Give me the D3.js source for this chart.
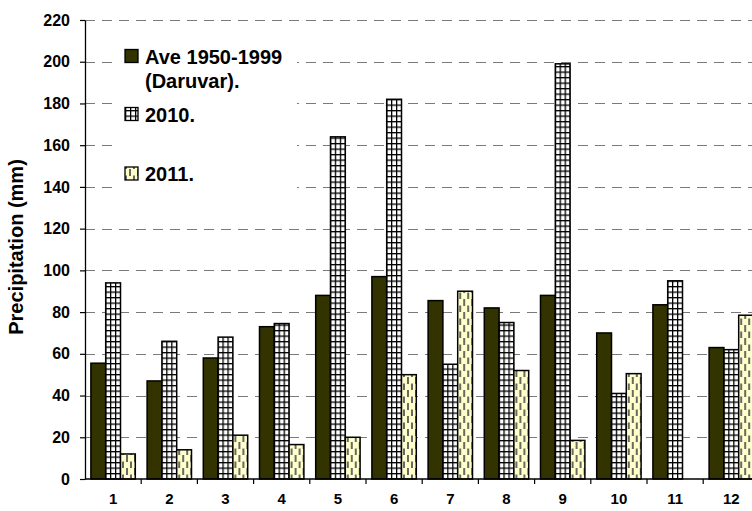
<!DOCTYPE html>
<html>
<head>
<meta charset="utf-8">
<script src="https://cdn.jsdelivr.net/npm/d3@7"></script>
<style>
  body { margin: 0; background: #fff; }
  svg { display: block; font-family: "Liberation Sans", Arial, sans-serif; }
</style>
</head>
<body>
<div id="chart"></div>
<script>
// data
var months = ["1", "2", "3", "4", "5", "6", "7", "8", "9", "10", "11", "12"];
var ave = [55.5, 47, 58, 73, 88, 97, 85.5, 82, 88, 70, 83.5, 63];
var y2010 = [94, 66, 68, 74.5, 164, 182, 55, 75, 199, 41, 95, 62];
var y2011 = [12, 14, 21, 16.5, 20, 50, 90, 52, 18.5, 50.5, null, 78.5];
var seriesNames = ["Ave 1950-1999 (Daruvar).", "2010.", "2011."];
var yTicks = [0, 20, 40, 60, 80, 100, 120, 140, 160, 180, 200, 220];

var width = 752, height = 511;
var plotLeft = 85, plotTop = 20, plotBottom = 479;
var step = 56.2;

var svg = d3.select("#chart").append("svg")
    .attr("width", width)
    .attr("height", height);

// patterns
var defs = svg.append("defs");

var grid = defs.append("pattern")
    .attr("id", "grid")
    .attr("patternUnits", "userSpaceOnUse")
    .attr("width", 5)
    .attr("height", 5.5);
grid.append("rect").attr("width", 5).attr("height", 5.5).attr("fill", "#fff");
grid.append("line").attr("x1", 0.6).attr("x2", 0.6).attr("y1", 0).attr("y2", 5.5)
    .attr("stroke", "#000").attr("stroke-width", 1.4);
grid.append("line").attr("x1", 0).attr("x2", 5).attr("y1", 0.6).attr("y2", 0.6)
    .attr("stroke", "#000").attr("stroke-width", 1.4);

var dashes = defs.append("pattern")
    .attr("id", "dashes")
    .attr("patternUnits", "userSpaceOnUse")
    .attr("width", 8)
    .attr("height", 13);
dashes.append("rect").attr("width", 8).attr("height", 13).attr("fill", "#ffffcc");
dashes.append("line").attr("x1", 2).attr("x2", 2).attr("y1", 0).attr("y2", 7)
    .attr("stroke", "#444").attr("stroke-width", 1.6);
dashes.append("line").attr("x1", 6).attr("x2", 6).attr("y1", 6.5).attr("y2", 13)
    .attr("stroke", "#444").attr("stroke-width", 1.6);

var fills = ["#333300", "url(#grid)", "url(#dashes)"];

// scales
var x = d3.scaleBand()
    .domain(months)
    .range([plotLeft, plotLeft + step * months.length]);

var xSub = d3.scaleBand()
    .domain([0, 1, 2])
    .range([5.9, step - 5.9]);

var y = d3.scaleLinear()
    .domain([0, 220])
    .range([plotBottom, plotTop]);

// gridlines
svg.append("g")
  .selectAll("line")
  .data(yTicks.slice(1))
  .enter().append("line")
    .attr("x1", plotLeft)
    .attr("x2", width)
    .attr("y1", function (d) { return Math.round(y(d)) + 0.5; })
    .attr("y2", function (d) { return Math.round(y(d)) + 0.5; })
    .style("stroke", "#7a7a7a")
    .style("stroke-width", "1.2px")
    .style("stroke-dasharray", "10,7");

// legend background hides gridlines
svg.append("rect")
    .attr("x", 112)
    .attr("y", 38)
    .attr("width", 185)
    .attr("height", 154)
    .attr("fill", "#fff");

// bars
var table = months.map(function (m, i) {
  return { month: m, values: [ave[i], y2010[i], y2011[i]] };
});

var groups = svg.append("g")
  .selectAll("g")
  .data(table)
  .enter().append("g")
    .attr("transform", function (d) { return "translate(" + x(d.month) + ",0)"; });

groups.selectAll("rect")
  .data(function (d) {
    return d.values.map(function (v, k) { return { k: k, v: v }; })
      .filter(function (e) { return e.v != null; });
  })
  .enter().append("rect")
    .attr("x", function (d) { return xSub(d.k); })
    .attr("width", xSub.bandwidth())
    .attr("y", function (d) { return y(d.v); })
    .attr("height", function (d) { return y(0) - y(d.v); })
    .attr("fill", function (d) { return fills[d.k]; })
    .attr("stroke", "#000")
    .attr("stroke-width", 1.5);

// y axis
var yAxis = svg.append("g")
    .attr("transform", "translate(" + plotLeft + ",0)")
    .call(d3.axisLeft(y).tickValues(yTicks).tickSize(5).tickPadding(10).tickSizeOuter(0));
yAxis.select(".domain").attr("stroke", "#000").attr("stroke-width", 1.3);
yAxis.selectAll(".tick line").attr("stroke", "#000").attr("stroke-width", 1.2);
yAxis.selectAll(".tick text")
    .attr("font-size", "16px")
    .attr("font-weight", "bold")
    .attr("font-family", "Liberation Sans, Arial, sans-serif")
    .attr("fill", "#000");

// x axis
svg.append("line")
    .attr("x1", plotLeft)
    .attr("x2", width)
    .attr("y1", plotBottom)
    .attr("y2", plotBottom)
    .attr("stroke", "#000")
    .attr("stroke-width", 1.3);

svg.append("g")
  .selectAll("line")
  .data(months.slice(1))
  .enter().append("line")
    .attr("x1", function (d) { return x(d); })
    .attr("x2", function (d) { return x(d); })
    .attr("y1", plotBottom)
    .attr("y2", plotBottom + 5)
    .attr("stroke", "#000")
    .attr("stroke-width", 1.2);

var xAxis = svg.append("g")
    .attr("transform", "translate(0," + plotBottom + ")")
    .call(d3.axisBottom(x).tickSize(0).tickPadding(14));
xAxis.select(".domain").remove();
xAxis.selectAll(".tick text")
    .attr("font-size", "15px")
    .attr("font-weight", "bold")
    .attr("font-family", "Liberation Sans, Arial, sans-serif")
    .attr("fill", "#000");

// axis title
svg.append("text")
    .text("Precipitation (mm)")
    .attr("transform", "translate(23,247) rotate(-90)")
    .attr("text-anchor", "middle")
    .attr("font-size", "20px")
    .attr("font-weight", "bold");

// legend
var legendRows = [
  { k: 0, sq: 49.5, lines: [{ t: "Ave 1950-1999", y: 64 }, { t: "(Daruvar).", y: 88 }] },
  { k: 1, sq: 107.5, lines: [{ t: "2010.", y: 122 }] },
  { k: 2, sq: 167, lines: [{ t: "2011.", y: 181 }] }
];

var legend = svg.append("g");
legendRows.forEach(function (r) {
  legend.append("rect")
      .attr("x", 125)
      .attr("y", r.sq)
      .attr("width", 13)
      .attr("height", 13)
      .attr("fill", fills[r.k])
      .attr("stroke", "#000")
      .attr("stroke-width", 1.3);
  r.lines.forEach(function (l) {
    legend.append("text")
        .text(l.t)
        .attr("x", 145)
        .attr("y", l.y)
        .attr("font-size", "20px")
        .attr("font-weight", "bold");
  });
});
</script>
</body>
</html>
